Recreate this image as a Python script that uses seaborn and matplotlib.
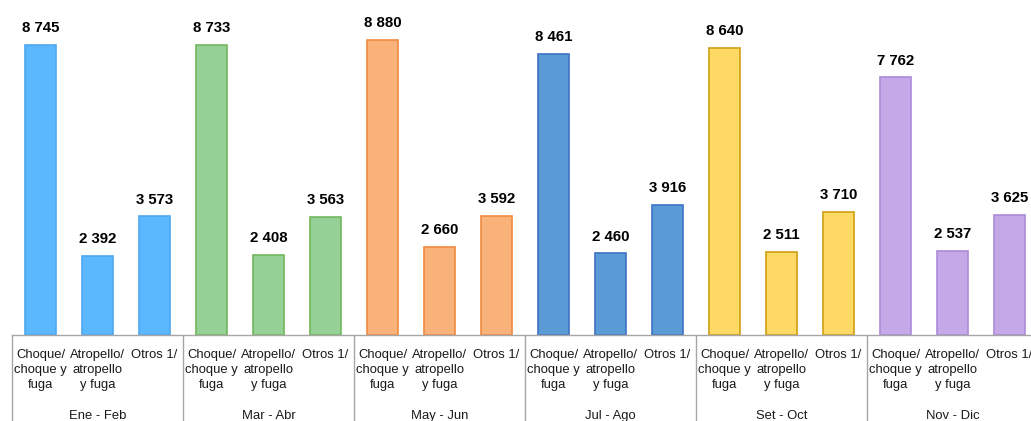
import pandas as pd
import matplotlib.pyplot as plt
import seaborn as sns

# Data
periods = ["Ene - Feb", "Mar - Abr", "May - Jun", "Jul - Ago", "Set - Oct", "Nov - Dic"]
types = ["Choque/\nchoque y\nfuga", "Atropello/\natropello\ny fuga", "Otros 1/"]
choque = [8745, 8733, 8880, 8461, 8640, 7762]
atropello = [2392, 2408, 2660, 2460, 2511, 2537]
otros = [3573, 3563, 3592, 3916, 3710, 3625]

fills = ["#5BB8FF", "#95D096", "#FAB27B", "#5B9BD5", "#FFD966", "#C5A8E8"]
edges = ["#4EA8EE", "#72B85C", "#F08A40", "#3F72C6", "#CFA010", "#AC8ADA"]

# Build a long table, one row per bar
rows = []
for i, p in enumerate(periods):
    for j, (t, v) in enumerate(zip(types, [choque[i], atropello[i], otros[i]])):
        rows.append({"key": f"{i}-{j}", "period": p, "type": t, "value": v, "group": i})
df = pd.DataFrame(rows)

sns.set_style("white")
plt.rcParams["font.family"] = ["Liberation Sans", "DejaVu Sans"]

W, H = 1031, 421
fig = plt.figure(figsize=(W / 100, H / 100), dpi=100)
ax_left, ax_right, ax_bottom, ax_top = 12, 1038, 335, 3
ax = fig.add_axes([ax_left / W, (H - ax_bottom) / H,
                   (ax_right - ax_left) / W, (ax_bottom - ax_top) / H])

palette = [fills[g] for g in df["group"]]
sns.barplot(data=df, x="key", y="value", hue="key", palette=palette,
            legend=False, width=0.56, ax=ax, saturation=1)

for patch, g in zip(ax.patches, df["group"]):
    patch.set_edgecolor(edges[g])
    patch.set_linewidth(1.2)

ax.set_xlim(-0.5, len(df) - 0.5)
ax.set_ylim(0, 10000)
ax.set_xticks([])
ax.set_yticks([])
ax.set_xlabel("")
ax.set_ylabel("")
for s in ["top", "right", "left"]:
    ax.spines[s].set_visible(False)
ax.spines["bottom"].set_color("#A6A6A6")
ax.spines["bottom"].set_linewidth(1)

# value labels
for k, v in enumerate(df["value"]):
    ax.annotate(f"{v:,}".replace(",", " "), (k, v), xytext=(0, 7),
                textcoords="offset points", ha="center", va="bottom",
                fontsize=10.8, fontweight="bold", color="#000000")

# category and group labels
trans = ax.get_xaxis_transform()
for k, t in enumerate(df["type"]):
    ax.text(k, -0.042, t, transform=trans, ha="center", va="top",
            fontsize=9.4, linespacing=1.36, color="#1a1a1a")
for i, p in enumerate(periods):
    ax.text(i * 3 + 1, -0.245, p, transform=trans, ha="center", va="center",
            fontsize=9.4, color="#1a1a1a")

# separators between groups
for b in range(len(periods) + 1):
    ax.plot([b * 3 - 0.5, b * 3 - 0.5], [0, -0.3], transform=trans,
            color="#A6A6A6", lw=1, clip_on=False)

fig.savefig("out.png", dpi=100)
